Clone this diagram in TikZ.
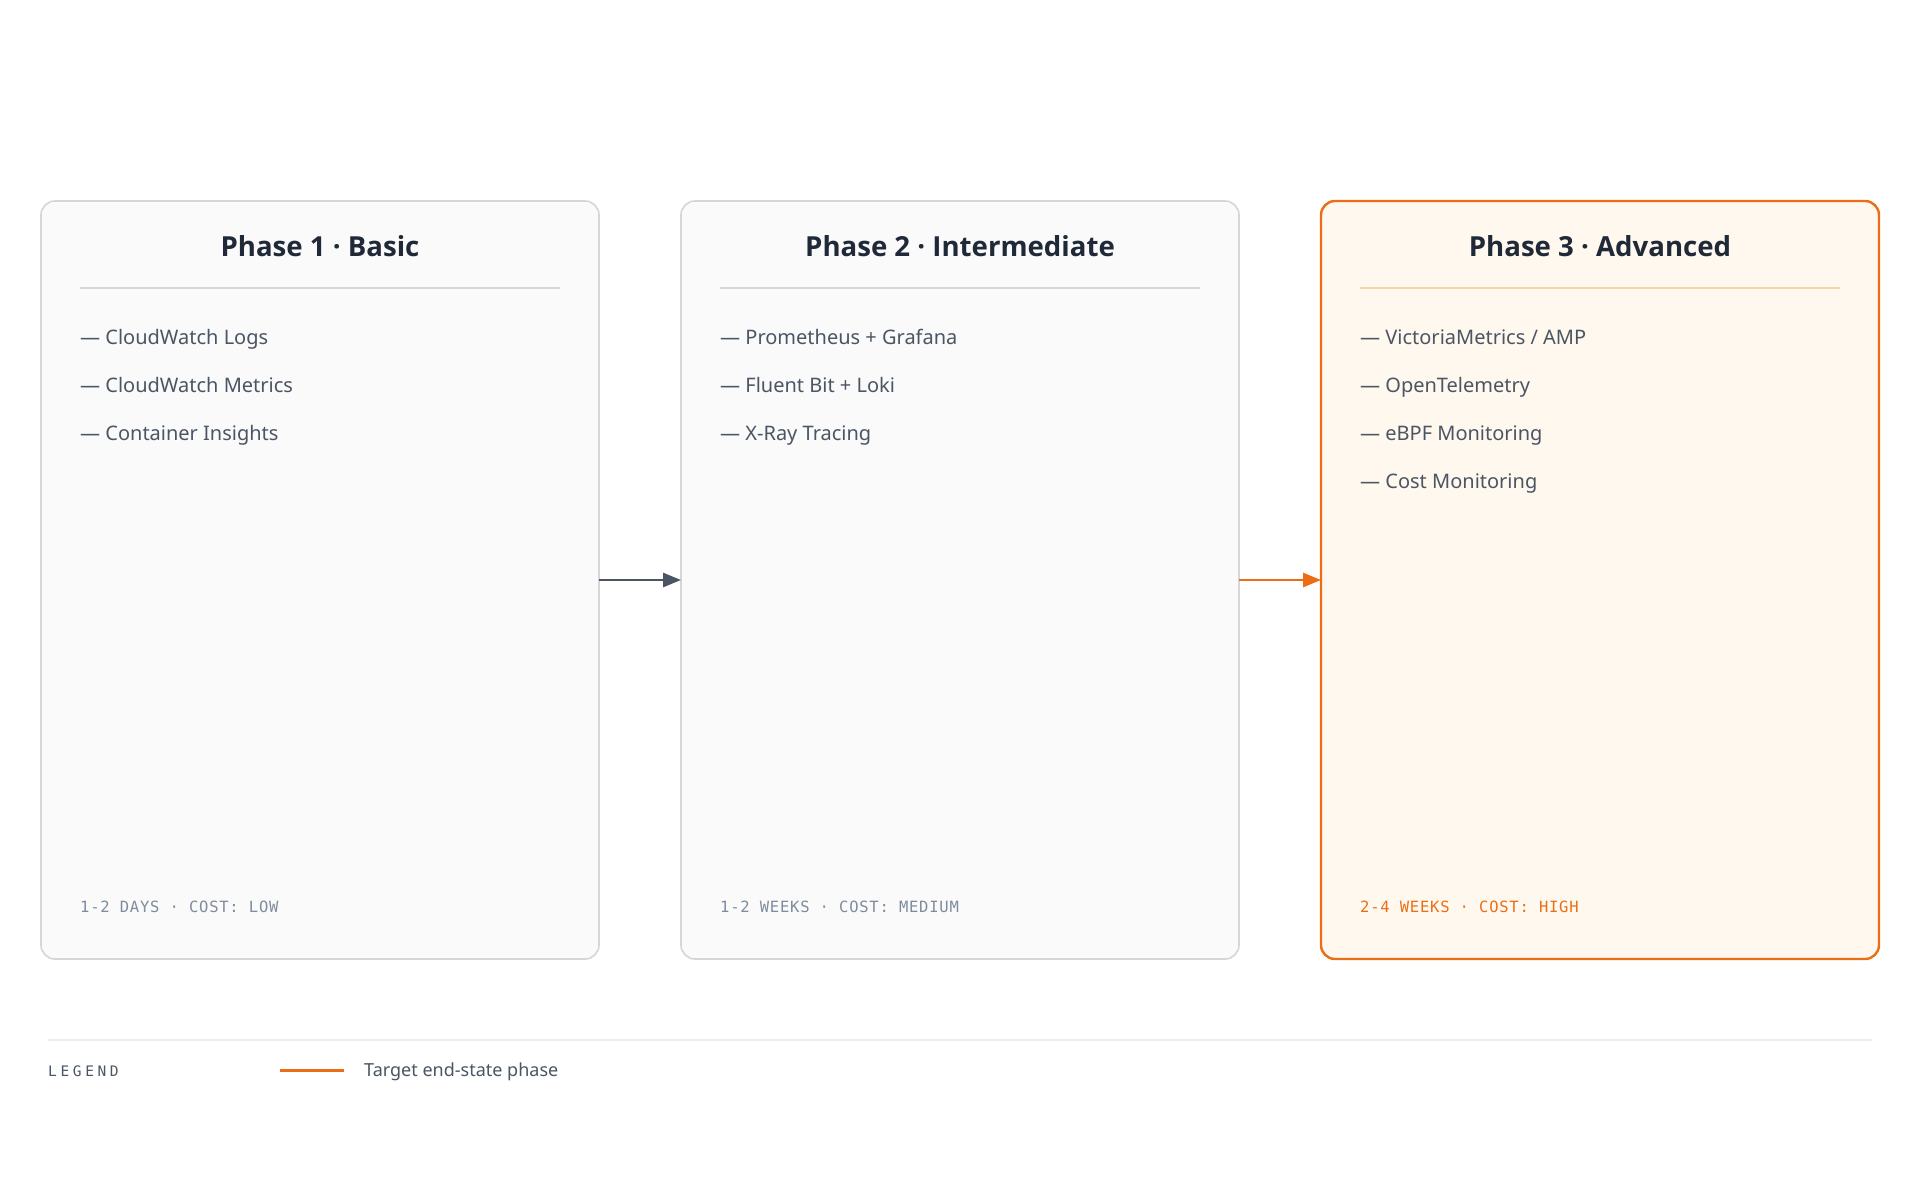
\documentclass[tikz,border=0pt]{standalone}
\usepackage{fontspec}
\setmainfont{Noto Sans}
\newfontfamily\titlef{Open Sans}
\newfontfamily\monof{DejaVu Sans Mono}[LetterSpace=5]
\newfontfamily\legf{DejaVu Sans Mono}[LetterSpace=25]
\usetikzlibrary{arrows.meta}
\definecolor{boxfill}{HTML}{FAFAFA}
\definecolor{boxline}{HTML}{D6D6DA}
\definecolor{orng}{HTML}{EC6E14}
\definecolor{orfill}{HTML}{FFF8EE}
\definecolor{ordiv}{HTML}{F8D3AA}
\definecolor{titlec}{HTML}{1F2937}
\definecolor{itemc}{HTML}{4B5563}
\definecolor{footc}{HTML}{7F8B9E}
\definecolor{arrowc}{HTML}{4B5563}
\definecolor{legline}{HTML}{ECECEC}
\tikzset{
  phasebox/.style={draw=boxline, fill=boxfill, line width=1.6pt, rounded corners=14pt,
    minimum width=558pt, minimum height=758pt, inner sep=0pt, outer sep=0pt},
  targetbox/.style={phasebox, draw=orng, fill=orfill, line width=2.4pt},
  ptitle/.style={anchor=base, text=titlec, font=\titlef\bfseries\fontsize{27.6}{34}\selectfont, inner sep=0pt},
  pitem/.style={anchor=base west, text=itemc, font=\fontsize{20}{24}\selectfont, inner sep=0pt},
  pfoot/.style={anchor=base west, text=footc, font=\monof\fontsize{15.5}{18}\selectfont, inner sep=0pt},
  divline/.style={draw=boxline, line width=1.4pt},
  flowarrow/.style={draw=arrowc, line width=2.8pt, -{Triangle[length=18pt,width=14pt]}},
}
\begin{document}
\begin{tikzpicture}[x=1pt,y=-1pt]
\fill[white] (0,0) rectangle (1920,1200);
\useasboundingbox (0,0) rectangle (1920,1200);

% boxes
\node[phasebox] (p1) at (320,580) {};
\node[phasebox] (p2) at (960,580) {};
\node[targetbox] (p3) at (1600,580) {};

% titles
\node[ptitle] (t1) at (320,256) {Phase 1 · Basic};
\node[ptitle] (t2) at (960,256) {Phase 2 · Intermediate};
\node[ptitle] (t3) at (1600,256) {Phase 3 · Advanced};

% dividers
\coordinate (d1a) at (80,288); \coordinate (d1b) at (560,288);
\coordinate (d2a) at (720,288); \coordinate (d2b) at (1200,288);
\coordinate (d3a) at (1360,288); \coordinate (d3b) at (1840,288);
\draw[divline] (d1a) -- (d1b);
\draw[divline] (d2a) -- (d2b);
\draw[divline, draw=ordiv] (d3a) -- (d3b);

% items
\node[pitem] (i11) at (80,344) {— CloudWatch Logs};
\node[pitem] (i12) at (80,392) {— CloudWatch Metrics};
\node[pitem] (i13) at (80,440) {— Container Insights};

\node[pitem] (i21) at (720,344) {— Prometheus + Grafana};
\node[pitem] (i22) at (720,392) {— Fluent Bit + Loki};
\node[pitem] (i23) at (720,440) {— X-Ray Tracing};

\node[pitem] (i31) at (1360,344) {— VictoriaMetrics / AMP};
\node[pitem] (i32) at (1360,392) {— OpenTelemetry};
\node[pitem] (i33) at (1360,440) {— eBPF Monitoring};
\node[pitem] (i34) at (1360,488) {— Cost Monitoring};

% footers
\node[pfoot] (f1) at (80,912) {1-2 DAYS · COST: LOW};
\node[pfoot] (f2) at (720,912) {1-2 WEEKS · COST: MEDIUM};
\node[pfoot, text=orng] (f3) at (1360,912) {2-4 WEEKS · COST: HIGH};

% arrows
\draw[flowarrow] (p1.east) -- (p2.west);
\draw[flowarrow, draw=orng, fill=orng] (p2.east) -- (p3.west);

% legend
\coordinate (la) at (48,1040); \coordinate (lb) at (1872,1040);
\draw[legline, line width=1.5pt] (la) -- (lb);
\node[anchor=base west, text=itemc, font=\legf\fontsize{14.5}{16}\selectfont, inner sep=0pt] (leg) at (48,1076) {LEGEND};
\coordinate (ls1) at (280,1070); \coordinate (ls2) at (344,1070);
\draw[orng, line width=3pt] (ls1) -- (ls2);
\node[anchor=base west, text=itemc, font=\fontsize{18}{22}\selectfont, inner sep=0pt] (legt) at (364,1076) {Target end-state phase};
\end{tikzpicture}
\end{document}
